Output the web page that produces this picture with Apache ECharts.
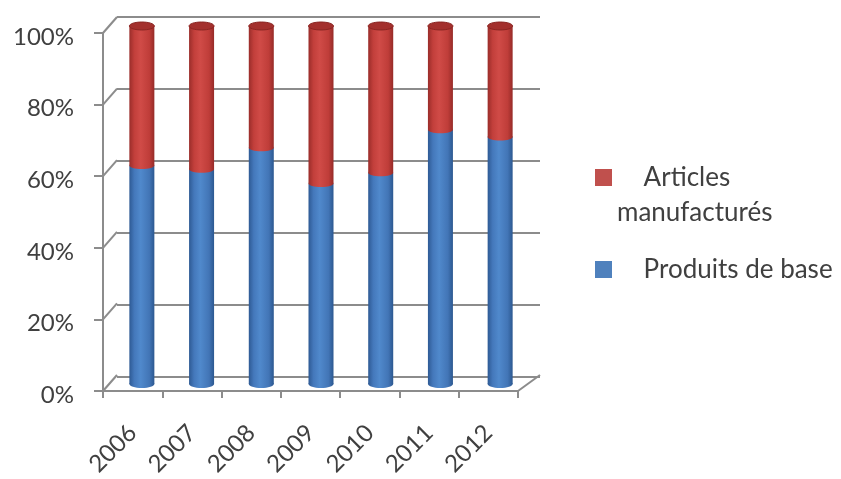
<!DOCTYPE html>
<html>
<head>
<meta charset="utf-8">
<style>
html,body{margin:0;padding:0;background:#fff;}
#chart{width:841px;height:479px;}
</style>
<script src="https://cdn.jsdelivr.net/npm/echarts/dist/echarts.min.js"></script>
</head>
<body>
<div id="chart"></div>
<script>
const years = ['2006', '2007', '2008', '2009', '2010', '2011', '2012'];
const produitsDeBase = [61, 60, 66, 56, 59, 71, 69];
const articlesManufactures = [39, 40, 34, 44, 41, 29, 31];
const yTicks = [0, 20, 40, 60, 80, 100];

const GRID_COLOR = '#8c8c8c';
const TEXT_COLOR = '#404040';
const FONT = 'Lato';

const blueGrad = new echarts.graphic.LinearGradient(0, 0, 1, 0, [
  { offset: 0, color: '#2e5a94' },
  { offset: 0.2, color: '#4478bb' },
  { offset: 0.45, color: '#5089cc' },
  { offset: 0.8, color: '#4275b6' },
  { offset: 1, color: '#2c5890' }
]);
const redGrad = new echarts.graphic.LinearGradient(0, 0, 1, 0, [
  { offset: 0, color: '#9a2d2a' },
  { offset: 0.2, color: '#c23f3b' },
  { offset: 0.45, color: '#d04b47' },
  { offset: 0.8, color: '#bf3d39' },
  { offset: 1, color: '#962b28' }
]);

const chart = echarts.init(document.getElementById('chart'));

const option = {
  animation: false,
  textStyle: { fontFamily: FONT },
  grid: [
    { left: 117, top: 17, width: 423, height: 360 },  // back wall
    { left: 103, top: 33, width: 415, height: 360 },  // front axes
    { left: 112, top: 26, width: 418, height: 358 }   // bars (mid depth)
  ],
  xAxis: [
    { gridIndex: 0, type: 'category', data: years, show: false },
    {
      gridIndex: 1, type: 'category', data: years,
      axisLine: { show: true, lineStyle: { color: GRID_COLOR, width: 2 } },
      axisTick: { show: true, interval: 0, length: 7, lineStyle: { color: GRID_COLOR, width: 2 } },
      axisLabel: { rotate: 45, margin: 38, fontSize: 24, color: TEXT_COLOR, fontFamily: FONT, interval: 0 },
      splitLine: { show: false }
    },
    { gridIndex: 2, type: 'category', data: years, show: false }
  ],
  yAxis: [
    {
      gridIndex: 0, type: 'value', min: 0, max: 100, interval: 20,
      axisLine: { show: false }, axisTick: { show: false }, axisLabel: { show: false },
      splitLine: { show: true, lineStyle: { color: GRID_COLOR, width: 2 } }
    },
    {
      gridIndex: 1, type: 'value', min: 0, max: 100, interval: 20,
      axisLine: { show: true, lineStyle: { color: GRID_COLOR, width: 2 } },
      axisTick: { show: true, length: 9, lineStyle: { color: GRID_COLOR, width: 2 } },
      axisLabel: {
        formatter: '{a|{value}%}', margin: 29,
        rich: { a: { fontSize: 24, color: TEXT_COLOR, fontFamily: FONT, padding: [8, 0, 0, 0] } }
      },
      splitLine: { show: false }
    },
    { gridIndex: 2, type: 'value', min: 0, max: 100, show: false, splitLine: { show: false } }
  ],
  legend: {
    orient: 'vertical',
    left: 590,
    top: 120,
    itemWidth: 17,
    itemHeight: 17,
    itemGap: 22,
    icon: 'rect',
    textStyle: { fontFamily: FONT, fontSize: 26, color: TEXT_COLOR, lineHeight: 35 },
    data: [
      { name: 'Articles manufacturés', itemStyle: { color: '#c0504d' } },
      { name: 'Produits de base', itemStyle: { color: '#4f81bd' } }
    ],
    formatter: function (name) {
      return name === 'Articles manufacturés' ? '\n    Articles\nmanufacturés' : '    Produits de base';
    }
  },
  series: [
    {
      name: 'Walls', type: 'custom', xAxisIndex: 1, yAxisIndex: 1, silent: true, z: 1,
      data: yTicks.map(v => [0, v]),
      encode: { x: 0, y: 1 },
      renderItem: function (params, api) {
        const cs = params.coordSys;
        const p = api.coord([0, api.value(1)]);
        const y = p[1];
        const children = [{
          type: 'line',
          shape: { x1: cs.x, y1: y, x2: cs.x + 14, y2: y - 16 },
          style: { stroke: GRID_COLOR, lineWidth: 2 }
        }];
        if (api.value(1) === 0) {
          children.push({
            type: 'line',
            shape: { x1: cs.x + cs.width, y1: y, x2: cs.x + cs.width + 22, y2: y - 16 },
            style: { stroke: GRID_COLOR, lineWidth: 2 }
          });
        }
        return { type: 'group', children: children };
      }
    },
    {
      name: 'Produits de base', type: 'bar', xAxisIndex: 2, yAxisIndex: 2, stack: 'total',
      barWidth: 25, data: produitsDeBase, z: 3,
      itemStyle: { color: blueGrad }
    },
    {
      name: 'Articles manufacturés', type: 'bar', xAxisIndex: 2, yAxisIndex: 2, stack: 'total',
      barWidth: 25, data: articlesManufactures, z: 3,
      itemStyle: { color: redGrad }
    },
    {
      name: 'Caps', type: 'custom', xAxisIndex: 2, yAxisIndex: 2, silent: true, z: 4,
      data: years.map((y, i) => [i, produitsDeBase[i]]),
      encode: { x: 0, y: 1 },
      renderItem: function (params, api) {
        const i = api.value(0);
        const bottom = api.coord([i, 0]);
        const mid = api.coord([i, api.value(1)]);
        const top = api.coord([i, 100]);
        return {
          type: 'group',
          children: [
            {
              type: 'ellipse',
              shape: { cx: bottom[0], cy: bottom[1], rx: 12.5, ry: 4 },
              style: { fill: blueGrad }
            },
            {
              type: 'ellipse',
              shape: { cx: mid[0], cy: mid[1], rx: 12.5, ry: 3.5 },
              style: { fill: redGrad }
            },
            {
              type: 'ellipse',
              shape: { cx: top[0], cy: top[1], rx: 12.5, ry: 4 },
              style: { fill: '#a3302d', stroke: '#8a2623', lineWidth: 1 }
            }
          ]
        };
      }
    }
  ]
};

chart.setOption(option);
</script>
</body>
</html>
